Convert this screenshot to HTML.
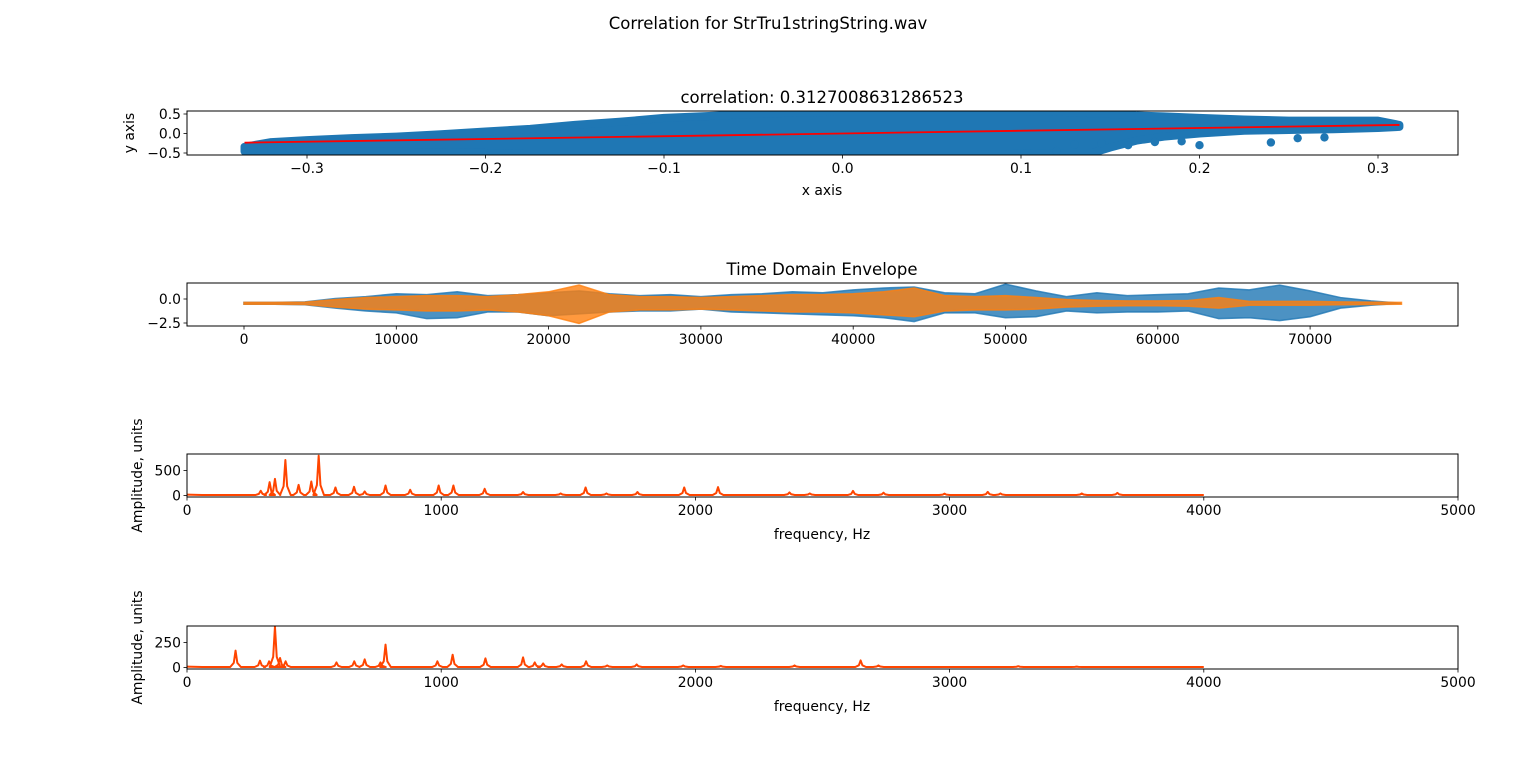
<!DOCTYPE html>
<html><head><meta charset="utf-8"><style>
body{margin:0;background:#fff}
svg{display:block;font-family:"DejaVu Sans","Liberation Sans",sans-serif}
text{fill:#000}
</style></head><body>
<svg id="fig" width="1536" height="762" viewBox="0 0 1536 762">
<text x="768" y="29" font-size="16.5" text-anchor="middle">Correlation for StrTru1stringString.wav</text>
</svg>
<script>
// ---------- data ----------
const scatterX = [-0.335,-0.32,-0.30,-0.275,-0.25,-0.225,-0.20,-0.175,-0.15,-0.125,-0.10,-0.075,-0.05,-0.025,0,0.025,0.05,0.075,0.10,0.125,0.14,0.15,0.165,0.18,0.20,0.225,0.25,0.275,0.30,0.312];
const scatterUpper = [-0.34,-0.22,-0.17,-0.12,-0.08,-0.02,0.05,0.12,0.22,0.30,0.40,0.45,0.50,0.54,0.56,0.56,0.56,0.56,0.56,0.55,0.52,0.50,0.46,0.44,0.40,0.36,0.33,0.33,0.33,0.22];
const scatterLower = [-0.46,-0.46,-0.45,-0.46,-0.47,-0.48,-0.50,-0.53,-0.55,-0.55,-0.55,-0.55,-0.55,-0.55,-0.55,-0.55,-0.55,-0.55,-0.52,-0.50,-0.50,-0.36,-0.18,-0.08,0.0,0.07,0.09,0.11,0.14,0.17];
const outlierX = [-0.33,-0.32,-0.31,0.12,0.13,0.145,0.16,0.175,0.19,0.20,0.24,0.255,0.27];
const outlierY = [-0.42,-0.44,-0.38,-0.45,-0.28,-0.25,-0.30,-0.22,-0.20,-0.30,-0.23,-0.12,-0.10];
const fitX = [-0.335,0.312];
const fitY = [-0.235,0.22];
const scatterXTicks = [-0.3,-0.2,-0.1,0.0,0.1,0.2,0.3];
const scatterYTicks = [0.5,0.0,-0.5];

const envSamples = [0,2000,4000,6000,8000,10000,12000,14000,16000,18000,20000,22000,24000,26000,28000,30000,32000,34000,36000,38000,40000,42000,44000,46000,48000,50000,52000,54000,56000,58000,60000,62000,64000,66000,68000,70000,72000,74000,76000];
const blueUp = [0.1,0.1,0.15,0.5,0.7,1.0,0.9,1.2,0.8,0.9,1.1,1.3,1.0,0.8,0.9,0.7,0.9,1.0,1.2,1.1,1.4,1.6,1.7,1.1,1.0,2.0,1.3,0.7,1.1,0.8,0.9,1.0,1.6,1.4,1.9,1.3,0.6,0.25,0.0];
const blueLo = [0.1,0.1,0.15,0.5,0.8,1.0,1.6,1.5,0.9,0.9,1.3,1.1,0.9,0.8,0.8,0.6,0.9,1.0,1.1,1.2,1.3,1.5,1.9,1.0,1.0,1.5,1.4,0.8,1.0,0.9,0.9,0.8,1.6,1.5,1.8,1.4,0.5,0.2,0.0];
const orangeUp = [0.1,0.1,0.12,0.4,0.6,0.7,0.8,0.8,0.7,0.9,1.2,1.9,0.9,0.7,0.7,0.6,0.7,0.8,0.9,0.9,1.0,1.2,1.6,0.8,0.7,0.8,0.6,0.4,0.3,0.25,0.25,0.3,0.6,0.2,0.2,0.2,0.15,0.12,0.1];
const orangeLo = [0.1,0.1,0.12,0.4,0.6,0.7,0.8,0.8,0.7,0.9,1.3,2.1,0.9,0.7,0.7,0.6,0.7,0.8,0.9,0.9,1.0,1.2,1.4,0.8,0.7,0.7,0.6,0.4,0.3,0.25,0.25,0.3,0.5,0.2,0.2,0.2,0.15,0.12,0.1];
const envCenter = -0.45;
const timeXTicks = [0,10000,20000,30000,40000,50000,60000,70000];
const timeYTicks = [0.0,-2.5];

const fft1Freq = [290,325,346,387,439,489,518,584,657,699,781,878,990,1048,1171,1322,1470,1568,1650,1772,1956,2089,2370,2450,2620,2740,2980,3150,3200,3520,3660];
const fft1Amp  = [93,267,333,713,213,280,800,160,173,80,200,113,200,200,133,67,40,160,40,67,160,167,60,40,90,55,35,70,40,40,50];
const fft2Freq = [191,287,323,346,366,388,588,658,699,761,781,985,1045,1174,1322,1368,1401,1474,1570,1653,1769,1952,2100,2390,2650,2720,3270,3500];
const fft2Amp  = [169,68,61,409,95,61,50,61,81,50,230,61,128,91,101,50,40,30,61,20,30,20,15,20,70,20,12,8];
const fftXTicks = [0,1000,2000,3000,4000,5000];
const fft1YTicks = [500,0];
const fft2YTicks = [250,0];

// ---------- helpers ----------
const NS='http://www.w3.org/2000/svg';
const svg=document.getElementById('fig');
function mk(tag,attrs,parent){const e=document.createElementNS(NS,tag);for(const k in attrs)e.setAttribute(k,attrs[k]);(parent||svg).appendChild(e);return e;}
function lin(d0,d1,p0,p1){return v=>p0+(v-d0)*(p1-p0)/(d1-d0);}
function frame(x0,y0,x1,y1,name){
  const r=mk('rect',{x:x0,y:y0,width:x1-x0,height:y1-y0,fill:'none',stroke:'#000','stroke-width':1});
  
  
}
function xticks(ticks,sx,yb,fmt,name){
  const g=mk('g',{});
  
  
  ticks.forEach(t=>{const x=sx(t);mk('line',{x1:x,x2:x,y1:yb,y2:yb+3.5,stroke:'#000','stroke-width':0.8},g);
    const tx=mk('text',{x:x,y:yb+18,'font-size':13.9,'text-anchor':'middle'},g);tx.textContent=fmt(t);});
}
function yticks(ticks,sy,xl,fmt,name){
  const g=mk('g',{});
  
  
  ticks.forEach(t=>{const y=sy(t);mk('line',{x1:xl-3.5,x2:xl,y1:y,y2:y,stroke:'#000','stroke-width':0.8},g);
    const tx=mk('text',{x:xl-6,y:y+5,'font-size':13.9,'text-anchor':'end'},g);tx.textContent=fmt(t);});
}
function label(txt,x,y,size,name,rot){
  const t=mk('text',{x:x,y:y,'font-size':size,'text-anchor':'middle'});
  if(rot)t.setAttribute('transform','rotate(-90 '+x+' '+y+')');
  t.textContent=txt;
  
  
}
const minus=s=>s.replace('-','\u2212');
const L=187,R=1458;

// ---------- scatter ----------
(function(){
  const T=111,B=155;
  const sx=lin(0,0.1,842.5,1021),sy=lin(0,0.5,133.5,114);
  const clip=mk('clipPath',{id:'c1'});mk('rect',{x:L,y:T,width:R-L,height:B-T},clip);
  const g=mk('g',{'clip-path':'url(#c1)'});
  let pts=[];
  scatterX.forEach((x,i)=>pts.push(sx(x)+','+sy(scatterUpper[i])));
  for(let i=scatterX.length-1;i>=0;i--)pts.push(sx(scatterX[i])+','+sy(scatterLower[i]));
  const band=mk('polygon',{points:pts.join(' '),fill:'#1f77b4',stroke:'#1f77b4','stroke-width':8,'stroke-linejoin':'round'},g);
  
  
  outlierX.forEach((x,i)=>{const c=mk('circle',{cx:sx(x),cy:sy(outlierY[i]),r:4.2,fill:'#1f77b4'},g);
    
    });
  const ln=mk('line',{x1:sx(fitX[0]),y1:sy(fitY[0]),x2:sx(fitX[1]),y2:sy(fitY[1]),stroke:'#ff0000','stroke-width':1.8},g);
  
  
  frame(L,T,R,B,'scatter-axes');
  xticks(scatterXTicks,sx,B,t=>minus(t.toFixed(1)),'scatter-x-ticks');
  yticks(scatterYTicks,sy,L,t=>minus(t.toFixed(1)),'scatter-y-ticks');
  label('correlation: 0.3127008631286523',822,103,16.5,'scatter-title');
  label('x axis',822,195,13.9,'x-axis-title');
  label('y axis',134,133,13.9,'y-axis-title',true);
})();

// ---------- time domain ----------
(function(){
  const T=283,B=326;
  const sx=lin(0,10000,244,396.3),sy=lin(0,-2.5,299,323);
  const clip=mk('clipPath',{id:'c2'});mk('rect',{x:L,y:T,width:R-L,height:B-T},clip);
  const g=mk('g',{'clip-path':'url(#c2)'});
  function env(up,lo,color,name){
    let p=[];
    envSamples.forEach((s,i)=>p.push(sx(s)+','+sy(envCenter+up[i])));
    for(let i=envSamples.length-1;i>=0;i--)p.push(sx(envSamples[i])+','+sy(envCenter-lo[i]));
    const e=mk('polygon',{points:p.join(' '),fill:color,'fill-opacity':0.8,stroke:color,'stroke-opacity':0.8,'stroke-width':1.5},g);
    
    
  }
  env(blueUp,blueLo,'#1f77b4','envelope-channel-1');
  env(orangeUp,orangeLo,'#ff7f0e','envelope-channel-2');
  frame(L,T,R,B,'time-axes');
  xticks(timeXTicks,sx,B,t=>String(t),'time-x-ticks');
  yticks(timeYTicks,sy,L,t=>minus(t.toFixed(1)),'time-y-ticks');
  label('Time Domain Envelope',822,275,16.5,'time-title');
})();

// ---------- spectra ----------
function spectrum(T,B,freq,amp,yt,unit,name,clipId){
  const sx=lin(0,1000,187,441.2);
  const sy=lin(0,unit,B-1.6,B-26.4);
  const clip=mk('clipPath',{id:clipId});mk('rect',{x:L,y:T,width:R-L,height:B-T},clip);
  const g=mk('g',{'clip-path':'url(#'+clipId+')'});
  const base=unit*0.015,w=7;
  let d='M'+sx(0)+','+sy(base*2)+' L'+sx(60)+','+sy(base);
  freq.forEach((f,i)=>{d+=' L'+sx(f-w*3)+','+sy(base)+' L'+sx(f-w)+','+sy(base+amp[i]*0.25)+' L'+sx(f)+','+sy(amp[i])+' L'+sx(f+w)+','+sy(base+amp[i]*0.25)+' L'+sx(f+w*3)+','+sy(base);});
  d+=' L'+sx(4000)+','+sy(base);
  const p=mk('path',{d:d,fill:'none',stroke:'#ff4500','stroke-width':2,'stroke-linejoin':'round'},g);
  
  
  frame(L,T,R,B,name+'-axes');
  xticks(fftXTicks,sx,B,t=>String(t),name+'-x-ticks');
  yticks(yt,sy,L,t=>String(t),name+'-y-ticks');
  label('frequency, Hz',822,B+42,13.9,name+'-x-title');
  label('Amplitude, units',142,(T+B)/2,13.9,name+'-y-title',true);
}
spectrum(454,497,fft1Freq,fft1Amp,fft1YTicks,500,'spectrum-1','c3');
spectrum(626,669,fft2Freq,fft2Amp,fft2YTicks,250,'spectrum-2','c4');
</script>
</body></html>
